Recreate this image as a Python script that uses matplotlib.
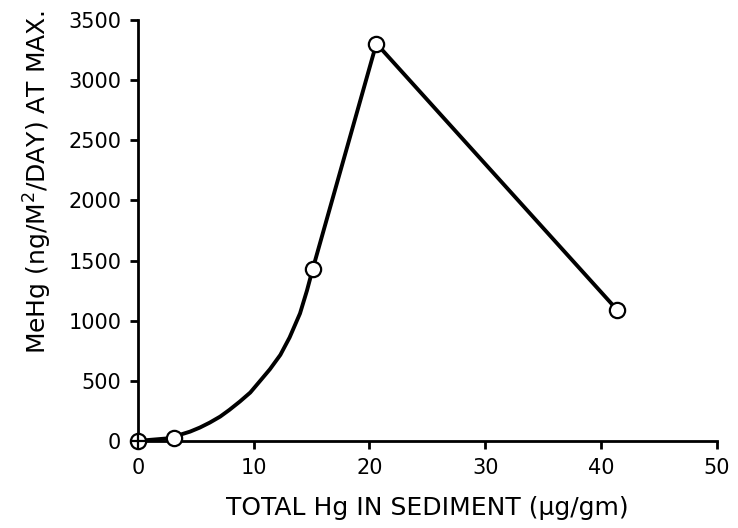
import matplotlib
matplotlib.use("Agg")
import matplotlib.pyplot as plt

plt.rcParams['font.family'] = ['DejaVu Sans']

# measured points (open circles)
pts_x = [3.1, 15.1, 20.6, 41.4]
pts_y = [25, 1430, 3305, 1090]
# origin point (circle with cross)
orig_x = [0]
orig_y = [0]
# hand drawn curve through the points
curve_x = [0, 3.1, 3.6, 4.5, 5.35, 6.2, 7.1, 7.9, 8.8, 9.7, 10.5, 11.4,
           12.3, 13.1, 14.0, 14.6, 15.1, 20.6, 41.4]
curve_y = [0, 25, 50, 77, 111, 152, 202, 258, 327, 402, 493, 596,
           715, 860, 1060, 1250, 1430, 3305, 1090]

xticks = [0, 10, 20, 30, 40, 50]
yticks = [0, 500, 1000, 1500, 2000, 2500, 3000, 3500]

fig = plt.figure(figsize=(7.38, 5.28), dpi=100)
ax = fig.add_axes([0.187, 0.165, 0.784, 0.797])

ax.plot(curve_x, curve_y, color="black", linewidth=2.8,
        solid_joinstyle='round', solid_capstyle='round', zorder=2)
ax.plot(pts_x, pts_y, 'o', markersize=11, markerfacecolor="white",
        markeredgecolor="black", markeredgewidth=1.6, clip_on=False, zorder=3)
ax.plot(orig_x, orig_y, 'o', markersize=11, markerfacecolor="white",
        markeredgecolor="black", markeredgewidth=1.6, clip_on=False, zorder=4)
ax.plot(orig_x, orig_y, '+', markersize=11, color="black",
        markeredgewidth=1.6, clip_on=False, zorder=5)

ax.set_xlim(0, 50)
ax.set_ylim(0, 3500)
ax.set_xticks(xticks)
ax.set_yticks(yticks)
ax.spines['top'].set_visible(False)
ax.spines['right'].set_visible(False)
ax.spines['left'].set_linewidth(2)
ax.spines['bottom'].set_linewidth(2)
ax.tick_params(direction='out', length=6, width=2, labelsize=15, pad=6)

ax.set_xlabel("TOTAL Hg IN SEDIMENT (µg/gm)", fontsize=18)
ax.set_ylabel("MeHg (ng/M$^2$/DAY) AT MAX.", fontsize=18)
ax.xaxis.set_label_coords(0.50, -0.13)
ax.yaxis.set_label_coords(-0.145, 0.615)

plt.savefig("out.png", dpi=100)
